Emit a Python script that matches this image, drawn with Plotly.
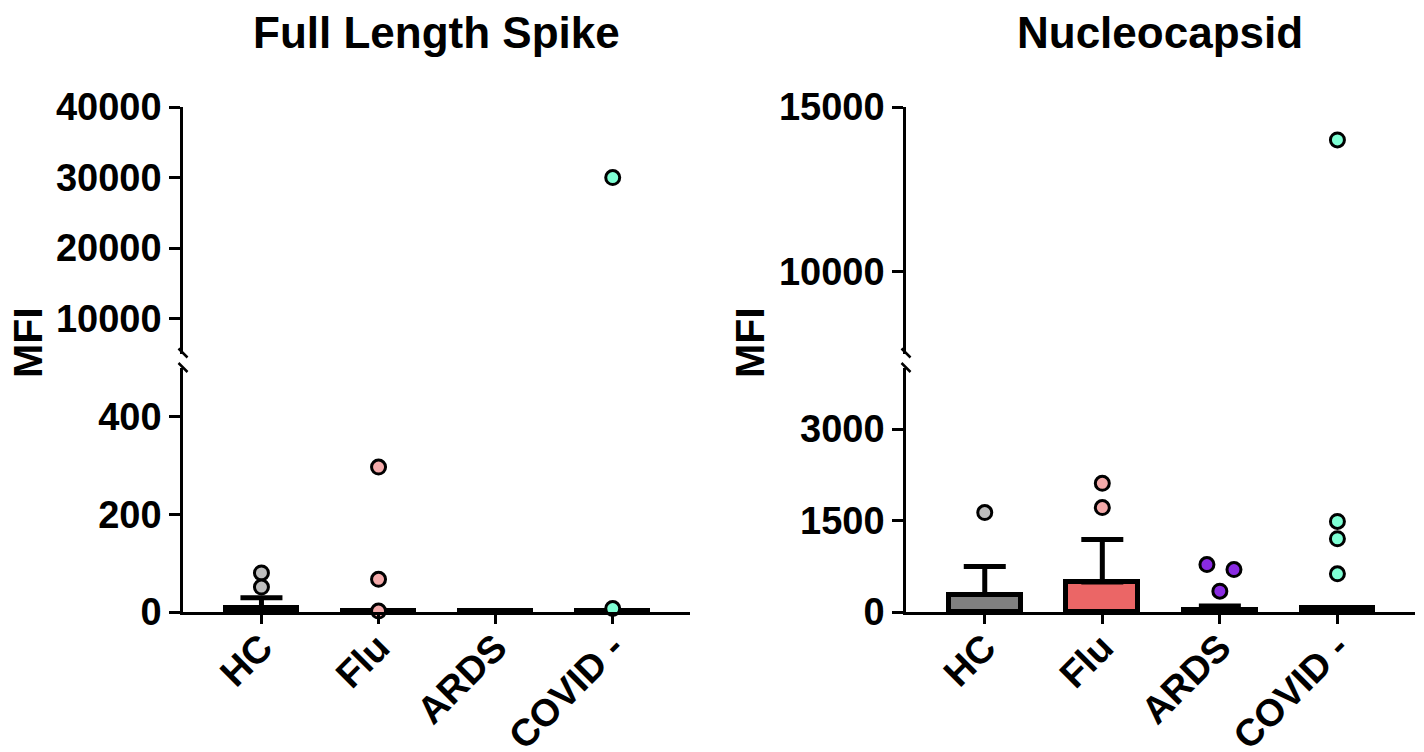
import plotly.graph_objects as go

# ---------------- data ----------------
categories = ["HC", "Flu", "ARDS", "COVID -"]

spike_bar = [8, 2, 2, 2]
spike_err = [21, 0, 0, 0]
spike_points = [[80, 51], [297, 67, 2], [], [30000, 7]]

nucleo_bar = [285, 490, 25, 60]
nucleo_err = [460, 700, 75, 0]
nucleo_points = [[1630], [2110, 1712], [777, 695, 342], [14000, 1484, 1201, 626]]

spike_ticks_low = [0, 200, 400]
spike_ticks_high = [10000, 20000, 30000, 40000]
nucleo_ticks_low = [0, 1500, 3000]
nucleo_ticks_high = [10000, 15000]

# ---------------- style ----------------
W, H = 1424, 752
OFF = 8  # page body offset
point_colors = ["#BEBEBE", "#F4AAAA", "#8A2BE2", "#7FFFD4"]
bar_colors = ["#808080", "#EB6666", "#8A2BE2", "#7FFFD4"]
jitter = {2: [-0.11, 0.12, 0.0]}
FONT = "Arial, Liberation Sans, sans-serif"


def px(x):
    return (x - OFF) / W


def py(y):
    return 1 - (y - OFF) / H


panels = [
    dict(title="Full Length Spike", bars=spike_bar, err=spike_err, pts=spike_points,
         low=[0, 500], high=[5000, 40000], tl=spike_ticks_low, th=spike_ticks_high,
         x0=183, x1=690, tcx=437, mfx=28),
    dict(title="Nucleocapsid", bars=nucleo_bar, err=nucleo_err, pts=nucleo_points,
         low=[0, 4000], high=[7500, 15000], tl=nucleo_ticks_low, th=nucleo_ticks_high,
         x0=906, x1=1415, tcx=1160, mfx=750),
]

low_dom = [py(612), py(368)]
high_dom = [py(354), py(107)]

fig = go.Figure()
layout = dict(width=W, height=H,
              margin=dict(l=0, r=0, t=0, b=0, pad=0, autoexpand=False),
              plot_bgcolor="white", paper_bgcolor="white", showlegend=False,
              bargap=0)
annotations = []
shapes = []

for i, p in enumerate(panels):
    xn = "x" if i == 0 else "x2"
    yl = "y" if i == 0 else "y3"
    yh = "y2" if i == 0 else "y4"
    xk = "xaxis" if i == 0 else "xaxis2"
    ylk = "yaxis" if i == 0 else "yaxis3"
    yhk = "yaxis2" if i == 0 else "yaxis4"

    fig.add_trace(go.Bar(
        x=list(range(len(categories))), y=p["bars"], width=0.61,
        marker=dict(color=bar_colors, line=dict(color="black", width=5)),
        error_y=dict(type="data", symmetric=False, array=p["err"],
                     arrayminus=[0] * len(categories), color="black",
                     thickness=5, width=21),
        xaxis=xn, yaxis=yl))

    for g, vals in enumerate(p["pts"]):
        if not vals:
            continue
        offs = jitter.get(g, [0.0] * len(vals)) if i == 1 else [0.0] * len(vals)
        lo = [(g + o, v) for o, v in zip(offs, vals) if v <= p["low"][1]]
        hi = [(g + o, v) for o, v in zip(offs, vals) if v > p["low"][1]]
        for sub, ya in ((lo, yl), (hi, yh)):
            if not sub:
                continue
            fig.add_trace(go.Scatter(
                x=[s[0] for s in sub], y=[s[1] for s in sub], mode="markers",
                marker=dict(size=14, color=point_colors[g],
                            line=dict(color="black", width=3)),
                cliponaxis=False, xaxis=xn, yaxis=ya))

    layout[xk] = dict(domain=[px(p["x0"]), px(p["x1"])], range=[-0.67, 3.66],
                      anchor=yl, tickvals=list(range(len(categories))),
                      ticktext=categories, tickangle=-45, automargin=False,
                      ticklabelstandoff=-14,
                      tickfont=dict(family=FONT, size=38, color="black", weight="bold"),
                      showline=True, linecolor="black", linewidth=3,
                      ticks="outside", ticklen=9, tickwidth=2.5, tickcolor="black",
                      showgrid=False, zeroline=False, fixedrange=True)
    common_y = dict(anchor=xn, showline=True, linecolor="black", linewidth=2.5,
                    ticks="outside", ticklen=11, tickwidth=2.5, tickcolor="black",
                    tickformat="d", automargin=False,
                    tickfont=dict(family=FONT, size=38, color="black", weight="bold"),
                    showgrid=False, zeroline=False, fixedrange=True)
    layout[ylk] = dict(domain=low_dom, range=p["low"], tickvals=p["tl"], **common_y)
    layout[yhk] = dict(domain=high_dom, range=p["high"], tickvals=p["th"], **common_y)

    annotations.append(dict(text=p["title"], x=px(p["tcx"]), y=py(33), xref="paper",
                            yref="paper", showarrow=False, xanchor="center",
                            yanchor="middle",
                            font=dict(family=FONT, size=44, color="black", weight="bold")))
    annotations.append(dict(text="MFI", x=px(p["mfx"]), y=py(343), xref="paper",
                            yref="paper", showarrow=False, textangle=-90,
                            xanchor="center", yanchor="middle",
                            font=dict(family=FONT, size=41, color="black", weight="bold")))

    ax = p["x0"]
    for cy in (353, 367.5):
        shapes.append(dict(type="line", xref="paper", yref="paper",
                           x0=px(ax - 4.5), y0=py(cy - 4.5),
                           x1=px(ax + 4.5), y1=py(cy + 4.5),
                           line=dict(color="black", width=2.5)))

layout["annotations"] = annotations
layout["shapes"] = shapes
fig.update_layout(**layout)
fig.write_html("out.html")
